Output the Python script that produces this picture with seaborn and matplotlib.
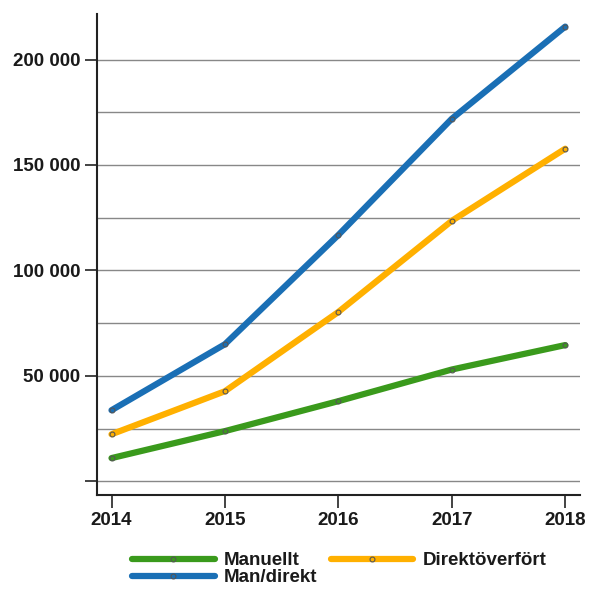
import matplotlib
matplotlib.use("Agg")
import matplotlib.pyplot as plt
import seaborn as sns
import pandas as pd
from matplotlib.ticker import FuncFormatter, MultipleLocator

years = [2014, 2015, 2016, 2017, 2018]
manuellt = [11000, 23800, 38000, 53000, 64600]
direkt = [22300, 42700, 80300, 123500, 157700]
man_direkt = [33700, 65000, 116800, 171900, 215600]
series_names = ["Manuellt", "Direktöverfört", "Man/direkt"]
colors = ["#3a9a1c", "#ffb000", "#1a6fb5"]

df = pd.DataFrame({
    "year": years * 3,
    "value": manuellt + direkt + man_direkt,
    "series": [series_names[0]] * 5 + [series_names[1]] * 5 + [series_names[2]] * 5,
})

sns.set_style("white")
plt.rcParams['font.family'] = ['Liberation Sans', 'DejaVu Sans']

fig = plt.figure(figsize=(5.9, 5.9), dpi=100)
ax = fig.add_axes([0.164, 0.161, 0.819, 0.815])

sns.lineplot(data=df, x="year", y="value", hue="series", palette=colors,
             hue_order=series_names, linewidth=4.5, marker="o", markersize=3.5,
             markerfacecolor="none", markeredgewidth=0.8, ax=ax, legend=True)
for ln in ax.get_lines():
    ln.set_solid_capstyle("round")
    ln.set_markeredgecolor("#555555")

ax.set_xlim(2013.87, 2018.13)
ax.set_ylim(-6500, 221500)
ax.set_xticks(years)
ax.set_yticks([0, 50000, 100000, 150000, 200000])
ax.yaxis.set_minor_locator(MultipleLocator(25000))
ax.yaxis.set_major_formatter(FuncFormatter(lambda v, p: "" if v == 0 else f"{int(v):,}".replace(",", " ")))
ax.grid(True, axis="y", which="both", color="#888888", linewidth=1.0)
ax.set_axisbelow(True)
ax.tick_params(axis="both", which="major", direction="out", length=9, width=1.2,
               color="#222222", labelsize=13.5, pad=3, left=True, bottom=True,
               labelcolor="#1a1a1a")
ax.tick_params(axis="y", which="minor", length=0, left=False)
for lab in ax.get_xticklabels() + ax.get_yticklabels():
    lab.set_fontweight("bold")
ax.set_xlabel("")
ax.set_ylabel("")
for s in ["top", "right"]:
    ax.spines[s].set_visible(False)
for s in ["left", "bottom"]:
    ax.spines[s].set_color("#222222")
    ax.spines[s].set_linewidth(1.5)

handles, labels = ax.get_legend_handles_labels()
ax.legend_.remove()
order = [0, 2, 1]
leg = fig.legend([handles[i] for i in order], [labels[i] for i in order],
                 loc="upper left", bbox_to_anchor=(0.208, 0.08),
                 ncol=2, frameon=False, prop={"weight": "bold", "size": 13.5},
                 handlelength=4.4, handletextpad=0.5, columnspacing=0.7,
                 labelspacing=0.0, borderpad=0)
for t in leg.get_texts():
    t.set_color("#1a1a1a")
for h in leg.legend_handles:
    h.set_linewidth(4.5)

fig.savefig("out.png", dpi=100)
